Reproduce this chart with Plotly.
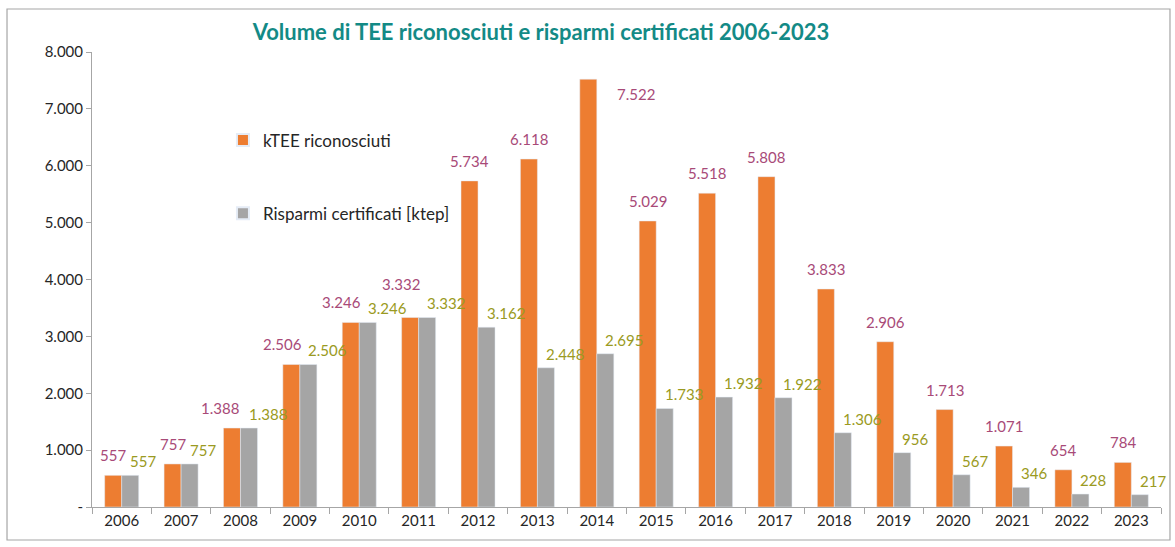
import plotly.graph_objects as go

years = [str(y) for y in range(2006, 2024)]
ktee = [557, 757, 1388, 2506, 3246, 3332, 5734, 6118, 7522, 5029, 5518, 5808, 3833, 2906, 1713, 1071, 654, 784]
risparmi = [557, 757, 1388, 2506, 3246, 3332, 3162, 2448, 2695, 1733, 1932, 1922, 1306, 956, 567, 346, 228, 217]
ytick_vals = [0, 1000, 2000, 3000, 4000, 5000, 6000, 7000, 8000]
ytick_text = ["-", "1.000", "2.000", "3.000", "4.000", "5.000", "6.000", "7.000", "8.000"]

ORANGE = "#ED7D31"
GRAY = "#A5A5A5"
ORANGE_LBL = "#A84A78"
GRAY_LBL = "#9A9A22"
FONT = "Lato"


def fmt(v):
    return f"{v:,}".replace(",", ".")


fig = go.Figure()
fig.add_trace(go.Bar(x=years, y=ktee, name="kTEE riconosciuti", marker_color=ORANGE,
                     legendgroup="a"))
fig.add_trace(go.Bar(x=years, y=risparmi, name="Risparmi certificati [ktep]", marker_color=GRAY,
                     legendgroup="b"))

BAR_OFF = 8.5
LBL = 15
# label placement tweaks (pixels) for readability, as in the reference
o_dx = {"2008": -12, "2009": -9, "2010": -9, "2011": -9}
o_dy = {"2011": 13}

annotations = []
for i, (yr, v) in enumerate(zip(years, ktee)):
    if yr == "2014":
        annotations.append(dict(x=i, y=v, xref="x", yref="y", text=fmt(v), showarrow=False,
                                xanchor="left", yanchor="top", xshift=BAR_OFF + 10, yshift=-4,
                                font=dict(family=FONT, size=LBL, color=ORANGE_LBL)))
    else:
        annotations.append(dict(x=i, y=v, xref="x", yref="y", text=fmt(v), showarrow=False,
                                xanchor="center", yanchor="bottom",
                                xshift=-BAR_OFF + o_dx.get(yr, 0), yshift=9 + o_dy.get(yr, 0),
                                font=dict(family=FONT, size=LBL, color=ORANGE_LBL)))
for i, (yr, v) in enumerate(zip(years, risparmi)):
    annotations.append(dict(x=i, y=v, xref="x", yref="y", text=fmt(v), showarrow=False,
                            xanchor="left", yanchor="bottom", xshift=BAR_OFF - 2, yshift=3,
                            font=dict(family=FONT, size=LBL, color=GRAY_LBL)))

fig.update_layout(
    width=1175, height=547,
    margin=dict(l=92, r=14, t=52, b=40),
    paper_bgcolor="white", plot_bgcolor="white",
    barmode="group", bargap=0.427, bargroupgap=0,
    font=dict(family=FONT, size=15, color="#262626"),
    title=dict(text="<b>Volume di TEE riconosciuti e risparmi certificati 2006-2023</b>",
               x=541 / 1175, xanchor="center", y=1 - 32 / 547, yanchor="middle",
               font=dict(family=FONT, size=22, color="#138A86")),
    legend=dict(x=0.1225, y=0.845, xanchor="left", yanchor="top",
                font=dict(family=FONT, size=17, color="#262626"),
                tracegroupgap=48, bgcolor="rgba(0,0,0,0)", itemsizing="constant"),
    annotations=annotations,
    shapes=[dict(type="rect", xref="paper", yref="paper", x0=-0.0795, x1=1.0084,
                 y0=-0.0725, y1=1.0945, line=dict(color="#A6A6A6", width=1.2),
                 fillcolor="rgba(0,0,0,0)", layer="below")],
)
fig.update_xaxes(type="category", range=[-0.5, len(years) - 0.5], autorange=False,
                 showline=True, linecolor="#A6A6A6", linewidth=1,
                 ticks="outside", tickson="boundaries", ticklen=6, tickcolor="#A6A6A6",
                 showgrid=False, tickangle=0,
                 tickfont=dict(family=FONT, size=15, color="#262626"))
fig.update_yaxes(range=[0, 8000], tickvals=ytick_vals, ticktext=ytick_text,
                 showline=True, linecolor="#A6A6A6", linewidth=1,
                 ticks="outside", ticklen=5, tickcolor="#A6A6A6",
                 showgrid=False, zeroline=False,
                 tickfont=dict(family=FONT, size=15, color="#262626"))

fig.write_html("out.html", config={"displayModeBar": False},
               post_script="document.body.style.margin='0px';")
